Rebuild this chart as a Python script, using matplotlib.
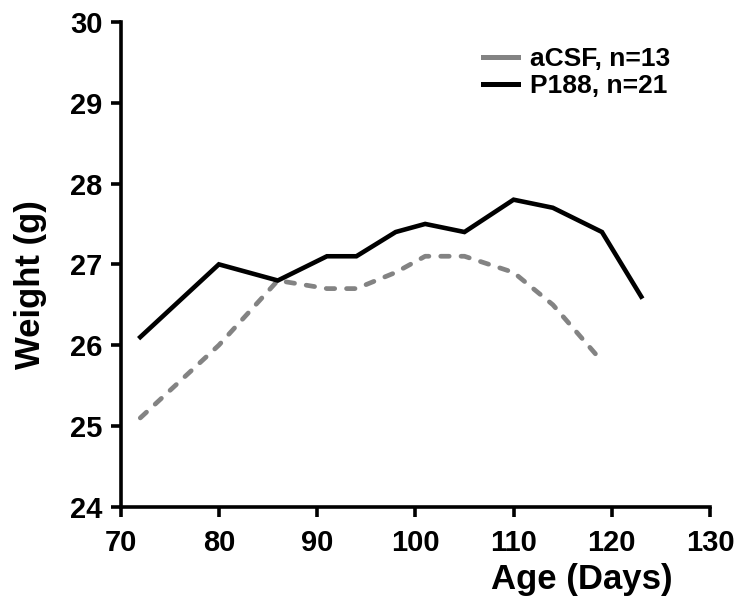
import numpy as np
import matplotlib
matplotlib.use("Agg")
import matplotlib.pyplot as plt
from matplotlib.lines import Line2D

# Données
age_acsf = [72, 80, 86, 91, 94, 98, 101, 105, 110, 114, 119]
poids_acsf = [25.1, 26.0, 26.8, 26.7, 26.7, 26.9, 27.1, 27.1, 26.9, 26.5, 25.8]

age_p188 = [72, 80, 86, 91, 94, 98, 101, 105, 110, 114, 119, 123]
poids_p188 = [26.1, 27.0, 26.8, 27.1, 27.1, 27.4, 27.5, 27.4, 27.8, 27.7, 27.4, 26.6]

labels = ["aCSF, n=13", "P188, n=21"]
x_ticks = [70, 80, 90, 100, 110, 120, 130]
y_ticks = [24, 25, 26, 27, 28, 29, 30]

plt.rcParams['font.family'] = ['Liberation Sans', 'DejaVu Sans']
plt.rcParams['font.weight'] = 'bold'

fig = plt.figure(figsize=(7.4, 6.07), dpi=100)
ax = fig.add_axes([0.163, 0.165, 0.7965, 0.799])

gris = '#838383'
ax.plot(age_acsf, poids_acsf, color=gris, lw=3.4, ls=(0, (1.8, 2.5)),
        dash_capstyle='round')
ax.plot(age_p188, poids_p188, color='black', lw=3.3, solid_joinstyle='miter')

ax.set_xlim(70, 130)
ax.set_ylim(24, 30)
ax.set_xticks(x_ticks)
ax.set_yticks(y_ticks)

for side in ['top', 'right']:
    ax.spines[side].set_visible(False)
for side in ['left', 'bottom']:
    ax.spines[side].set_linewidth(2.6)

ax.tick_params(axis='both', direction='out', length=7, width=2.6,
               labelsize=21)
ax.tick_params(axis='x', pad=9)
ax.tick_params(axis='y', pad=6)
for lab in ax.get_xticklabels() + ax.get_yticklabels():
    lab.set_fontweight('bold')

# Titres des axes
fig.text(0.041, 0.532, 'Weight (g)', fontsize=25, fontweight='bold',
         rotation=90, ha='center', va='center')
fig.text(0.786, 0.0445, 'Age (Days)', fontsize=25, fontweight='bold',
         ha='center', va='center')

# Légende avec traits pleins
handles = [Line2D([0], [0], color=gris, lw=3.6),
           Line2D([0], [0], color='black', lw=3.6)]
ax.legend(handles, labels, loc='upper left', bbox_to_anchor=(0.615, 0.948),
          frameon=False, handlelength=1.33, handletextpad=0.45,
          labelspacing=0.12, borderpad=0, borderaxespad=0,
          prop={'weight': 'bold', 'size': 19})

fig.savefig('out.png', dpi=100)
